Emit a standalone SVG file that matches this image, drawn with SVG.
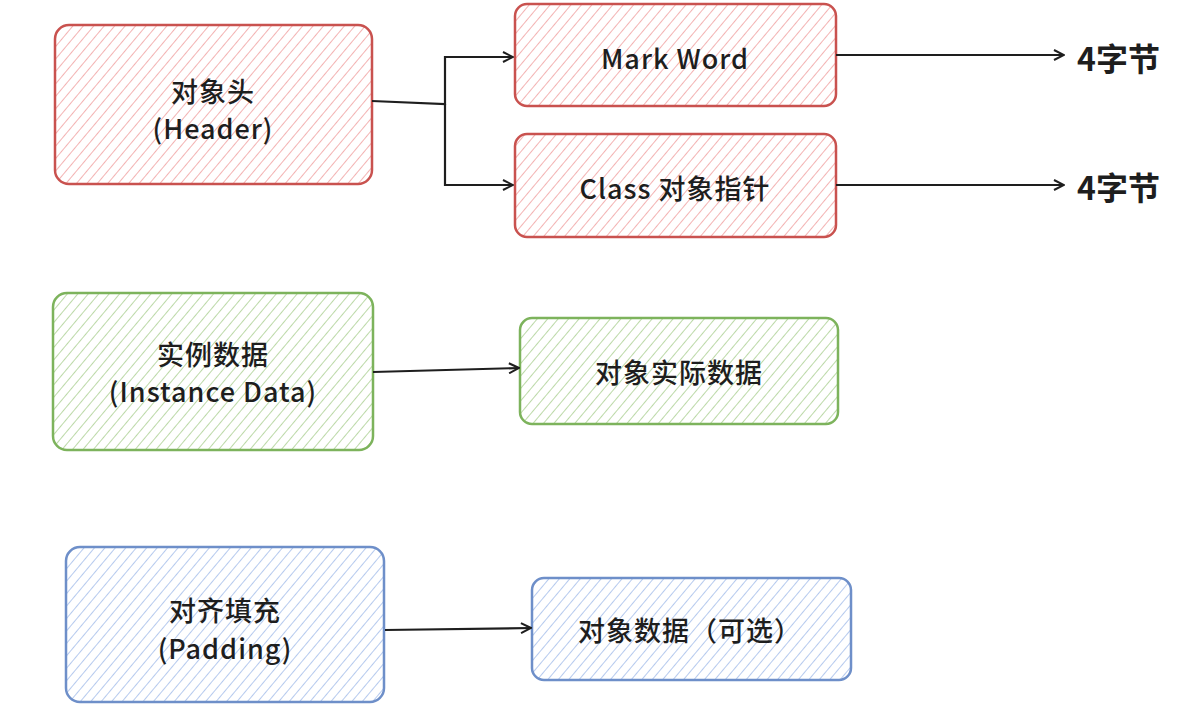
<svg xmlns="http://www.w3.org/2000/svg" width="1181" height="724" viewBox="0 0 1181 724">
<style>
.t{font-family:"Noto Sans CJK SC","Noto Sans",sans-serif;font-size:27px;font-weight:500;letter-spacing:1px;fill:#1e1e1e;text-anchor:middle;dominant-baseline:central}
.b{font-family:"Noto Sans CJK SC","Noto Sans",sans-serif;font-size:32px;font-weight:bold;fill:#1e1e1e;dominant-baseline:central}
.red{fill:url(#hr);stroke:#c9524f;stroke-width:2.5}
.green{fill:url(#hg);stroke:#7db35c;stroke-width:2.5}
.blue{fill:url(#hb);stroke:#6e8fc9;stroke-width:2.5}
.c{fill:none;stroke:#1e1e1e;stroke-width:2.2;marker-end:url(#ah)}
</style>
<defs>
<pattern id="hr" patternUnits="userSpaceOnUse" width="8" height="8" patternTransform="rotate(40)"><line x1="0" y1="0" x2="0" y2="8" stroke="#f3b3b3" stroke-width="2"/></pattern>
<pattern id="hg" patternUnits="userSpaceOnUse" width="8" height="8" patternTransform="rotate(40)"><line x1="0" y1="0" x2="0" y2="8" stroke="#bcd9a8" stroke-width="2"/></pattern>
<pattern id="hb" patternUnits="userSpaceOnUse" width="8" height="8" patternTransform="rotate(40)"><line x1="0" y1="0" x2="0" y2="8" stroke="#b6caee" stroke-width="2"/></pattern>
<marker id="ah" viewBox="0 0 12 12" refX="11" refY="6" markerWidth="12" markerHeight="12" markerUnits="userSpaceOnUse" orient="auto"><path d="M1 1 L11 6 L1 11" fill="none" stroke="#1e1e1e" stroke-width="2"/></marker>
</defs>
<rect width="1181" height="724" fill="#ffffff"/>
<g id="header"><rect class="red" x="55" y="25" width="317" height="159" rx="14"/><text class="t" x="213" y="90">对象头</text><text class="t" x="213" y="127">(Header)</text></g>
<g id="markword"><rect class="red" x="515" y="4" width="321" height="102" rx="12"/><text class="t" x="675" y="57">Mark Word</text></g>
<g id="classptr"><rect class="red" x="515" y="134" width="321" height="103" rx="12"/><text class="t" x="675" y="187">Class 对象指针</text></g>
<g id="bytes1"><text class="b" x="1077" y="57">4字节</text></g>
<g id="bytes2"><text class="b" x="1077" y="186">4字节</text></g>
<g id="instance"><rect class="green" x="53" y="293" width="320" height="157" rx="14"/><text class="t" x="213" y="353">实例数据</text><text class="t" x="213" y="390">(Instance Data)</text></g>
<g id="actual"><rect class="green" x="520" y="318" width="318" height="106" rx="12"/><text class="t" x="679" y="371">对象实际数据</text></g>
<g id="padding"><rect class="blue" x="66" y="547" width="318" height="155" rx="14"/><text class="t" x="225" y="609">对齐填充</text><text class="t" x="225" y="647">(Padding)</text></g>
<g id="optional"><rect class="blue" x="532" y="578" width="319" height="102" rx="12"/><text class="t" x="690" y="629">对象数据（可选）</text></g>
<g id="connectors">
<path class="c" d="M372 101 L445 104 L445 57 L513 57"/>
<path class="c" d="M445 104 L445 185 L513 185"/>
<path class="c" d="M836 55 L1064 55"/>
<path class="c" d="M836 185 L1064 185"/>
<path class="c" d="M373 372 L519 368"/>
<path class="c" d="M385 630 L531 628"/>
</g>
</svg>
